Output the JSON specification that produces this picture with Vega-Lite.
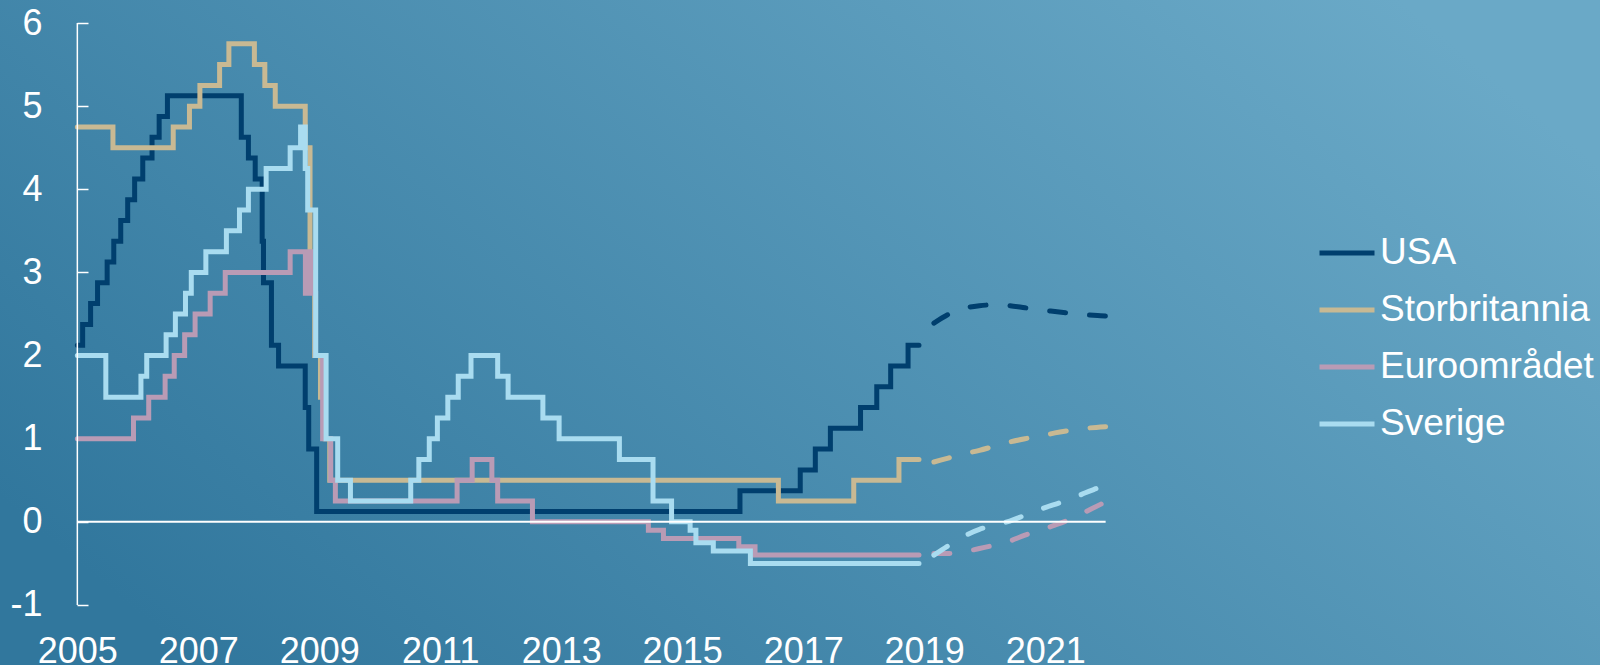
{
  "$schema": "https://vega.github.io/schema/vega-lite/v6.json",
  "width": 1600,
  "height": 665,
  "padding": 0,
  "autosize": {"type": "none"},
  "background": "#4a8cb0",
  "view": {
    "stroke": null,
    "fill": {
      "gradient": "linear",
      "x1": 0, "y1": 0.75, "x2": 1, "y2": 0.25,
      "stops": [
        {"offset": 0, "color": "#31779d"},
        {"offset": 1, "color": "#6aa9c7"}
      ]
    }
  },
  "config": {
    "font": "Liberation Sans",
    "view": {"stroke": null}
  },
  "datasets": {
    "hist": [
      {"land": "USA", "tid": "2005-01-01", "ranta": 2.125},
      {"land": "USA", "tid": "2005-02-02", "ranta": 2.375},
      {"land": "USA", "tid": "2005-03-22", "ranta": 2.625},
      {"land": "USA", "tid": "2005-05-03", "ranta": 2.875},
      {"land": "USA", "tid": "2005-06-30", "ranta": 3.125},
      {"land": "USA", "tid": "2005-08-09", "ranta": 3.375},
      {"land": "USA", "tid": "2005-09-20", "ranta": 3.625},
      {"land": "USA", "tid": "2005-11-01", "ranta": 3.875},
      {"land": "USA", "tid": "2005-12-13", "ranta": 4.125},
      {"land": "USA", "tid": "2006-01-31", "ranta": 4.375},
      {"land": "USA", "tid": "2006-03-28", "ranta": 4.625},
      {"land": "USA", "tid": "2006-05-10", "ranta": 4.875},
      {"land": "USA", "tid": "2006-06-29", "ranta": 5.125},
      {"land": "USA", "tid": "2007-09-18", "ranta": 4.625},
      {"land": "USA", "tid": "2007-10-31", "ranta": 4.375},
      {"land": "USA", "tid": "2007-12-11", "ranta": 4.125},
      {"land": "USA", "tid": "2008-01-22", "ranta": 3.375},
      {"land": "USA", "tid": "2008-01-30", "ranta": 2.875},
      {"land": "USA", "tid": "2008-03-18", "ranta": 2.125},
      {"land": "USA", "tid": "2008-04-30", "ranta": 1.875},
      {"land": "USA", "tid": "2008-10-08", "ranta": 1.375},
      {"land": "USA", "tid": "2008-10-29", "ranta": 0.875},
      {"land": "USA", "tid": "2008-12-16", "ranta": 0.125},
      {"land": "USA", "tid": "2015-12-16", "ranta": 0.375},
      {"land": "USA", "tid": "2016-12-14", "ranta": 0.625},
      {"land": "USA", "tid": "2017-03-15", "ranta": 0.875},
      {"land": "USA", "tid": "2017-06-14", "ranta": 1.125},
      {"land": "USA", "tid": "2017-12-13", "ranta": 1.375},
      {"land": "USA", "tid": "2018-03-21", "ranta": 1.625},
      {"land": "USA", "tid": "2018-06-13", "ranta": 1.875},
      {"land": "USA", "tid": "2018-09-26", "ranta": 2.125},
      {"land": "USA", "tid": "2018-12-01", "ranta": 2.125},

      {"land": "Storbritannia", "tid": "2005-01-01", "ranta": 4.75},
      {"land": "Storbritannia", "tid": "2005-08-04", "ranta": 4.5},
      {"land": "Storbritannia", "tid": "2006-08-03", "ranta": 4.75},
      {"land": "Storbritannia", "tid": "2006-11-09", "ranta": 5.0},
      {"land": "Storbritannia", "tid": "2007-01-11", "ranta": 5.25},
      {"land": "Storbritannia", "tid": "2007-05-10", "ranta": 5.5},
      {"land": "Storbritannia", "tid": "2007-07-05", "ranta": 5.75},
      {"land": "Storbritannia", "tid": "2007-12-06", "ranta": 5.5},
      {"land": "Storbritannia", "tid": "2008-02-07", "ranta": 5.25},
      {"land": "Storbritannia", "tid": "2008-04-10", "ranta": 5.0},
      {"land": "Storbritannia", "tid": "2008-10-08", "ranta": 4.5},
      {"land": "Storbritannia", "tid": "2008-11-06", "ranta": 3.0},
      {"land": "Storbritannia", "tid": "2008-12-04", "ranta": 2.0},
      {"land": "Storbritannia", "tid": "2009-01-08", "ranta": 1.5},
      {"land": "Storbritannia", "tid": "2009-02-05", "ranta": 1.0},
      {"land": "Storbritannia", "tid": "2009-03-05", "ranta": 0.5},
      {"land": "Storbritannia", "tid": "2016-08-04", "ranta": 0.25},
      {"land": "Storbritannia", "tid": "2017-11-02", "ranta": 0.5},
      {"land": "Storbritannia", "tid": "2018-08-02", "ranta": 0.75},
      {"land": "Storbritannia", "tid": "2018-12-01", "ranta": 0.75},

      {"land": "Euroområdet", "tid": "2005-01-01", "ranta": 1.0},
      {"land": "Euroområdet", "tid": "2005-12-06", "ranta": 1.25},
      {"land": "Euroområdet", "tid": "2006-03-08", "ranta": 1.5},
      {"land": "Euroområdet", "tid": "2006-06-15", "ranta": 1.75},
      {"land": "Euroområdet", "tid": "2006-08-09", "ranta": 2.0},
      {"land": "Euroområdet", "tid": "2006-10-11", "ranta": 2.25},
      {"land": "Euroområdet", "tid": "2006-12-13", "ranta": 2.5},
      {"land": "Euroområdet", "tid": "2007-03-14", "ranta": 2.75},
      {"land": "Euroområdet", "tid": "2007-06-13", "ranta": 3.0},
      {"land": "Euroområdet", "tid": "2008-07-09", "ranta": 3.25},
      {"land": "Euroområdet", "tid": "2008-10-09", "ranta": 2.75},
      {"land": "Euroområdet", "tid": "2008-10-15", "ranta": 3.25},
      {"land": "Euroområdet", "tid": "2008-11-12", "ranta": 2.75},
      {"land": "Euroområdet", "tid": "2008-12-10", "ranta": 2.0},
      {"land": "Euroområdet", "tid": "2009-01-21", "ranta": 1.0},
      {"land": "Euroområdet", "tid": "2009-03-11", "ranta": 0.5},
      {"land": "Euroområdet", "tid": "2009-04-08", "ranta": 0.25},
      {"land": "Euroområdet", "tid": "2011-04-13", "ranta": 0.5},
      {"land": "Euroområdet", "tid": "2011-07-13", "ranta": 0.75},
      {"land": "Euroområdet", "tid": "2011-11-09", "ranta": 0.5},
      {"land": "Euroområdet", "tid": "2011-12-14", "ranta": 0.25},
      {"land": "Euroområdet", "tid": "2012-07-11", "ranta": 0.0},
      {"land": "Euroområdet", "tid": "2014-06-11", "ranta": -0.1},
      {"land": "Euroområdet", "tid": "2014-09-10", "ranta": -0.2},
      {"land": "Euroområdet", "tid": "2015-12-09", "ranta": -0.3},
      {"land": "Euroområdet", "tid": "2016-03-16", "ranta": -0.4},
      {"land": "Euroområdet", "tid": "2018-12-01", "ranta": -0.4},

      {"land": "Sverige", "tid": "2005-01-01", "ranta": 2.0},
      {"land": "Sverige", "tid": "2005-06-22", "ranta": 1.5},
      {"land": "Sverige", "tid": "2006-01-20", "ranta": 1.75},
      {"land": "Sverige", "tid": "2006-02-24", "ranta": 2.0},
      {"land": "Sverige", "tid": "2006-06-21", "ranta": 2.25},
      {"land": "Sverige", "tid": "2006-08-16", "ranta": 2.5},
      {"land": "Sverige", "tid": "2006-10-16", "ranta": 2.75},
      {"land": "Sverige", "tid": "2006-11-20", "ranta": 3.0},
      {"land": "Sverige", "tid": "2007-02-16", "ranta": 3.25},
      {"land": "Sverige", "tid": "2007-06-20", "ranta": 3.5},
      {"land": "Sverige", "tid": "2007-09-07", "ranta": 3.75},
      {"land": "Sverige", "tid": "2007-10-31", "ranta": 4.0},
      {"land": "Sverige", "tid": "2008-02-15", "ranta": 4.25},
      {"land": "Sverige", "tid": "2008-07-09", "ranta": 4.5},
      {"land": "Sverige", "tid": "2008-09-10", "ranta": 4.75},
      {"land": "Sverige", "tid": "2008-10-08", "ranta": 4.25},
      {"land": "Sverige", "tid": "2008-10-23", "ranta": 3.75},
      {"land": "Sverige", "tid": "2008-12-10", "ranta": 2.0},
      {"land": "Sverige", "tid": "2009-02-11", "ranta": 1.0},
      {"land": "Sverige", "tid": "2009-04-22", "ranta": 0.5},
      {"land": "Sverige", "tid": "2009-07-08", "ranta": 0.25},
      {"land": "Sverige", "tid": "2010-07-07", "ranta": 0.5},
      {"land": "Sverige", "tid": "2010-08-25", "ranta": 0.75},
      {"land": "Sverige", "tid": "2010-10-27", "ranta": 1.0},
      {"land": "Sverige", "tid": "2010-12-15", "ranta": 1.25},
      {"land": "Sverige", "tid": "2011-02-16", "ranta": 1.5},
      {"land": "Sverige", "tid": "2011-04-20", "ranta": 1.75},
      {"land": "Sverige", "tid": "2011-07-06", "ranta": 2.0},
      {"land": "Sverige", "tid": "2011-12-14", "ranta": 1.75},
      {"land": "Sverige", "tid": "2012-02-15", "ranta": 1.5},
      {"land": "Sverige", "tid": "2012-09-12", "ranta": 1.25},
      {"land": "Sverige", "tid": "2012-12-19", "ranta": 1.0},
      {"land": "Sverige", "tid": "2013-12-18", "ranta": 0.75},
      {"land": "Sverige", "tid": "2014-07-09", "ranta": 0.25},
      {"land": "Sverige", "tid": "2014-10-29", "ranta": 0.0},
      {"land": "Sverige", "tid": "2015-02-18", "ranta": -0.1},
      {"land": "Sverige", "tid": "2015-03-25", "ranta": -0.25},
      {"land": "Sverige", "tid": "2015-07-08", "ranta": -0.35},
      {"land": "Sverige", "tid": "2016-02-17", "ranta": -0.5},
      {"land": "Sverige", "tid": "2018-12-01", "ranta": -0.5}
    ],
    "prognos": [
      {"land": "USA", "tid": "2019-03-01", "ranta": 2.39},
      {"land": "USA", "tid": "2019-06-01", "ranta": 2.5},
      {"land": "USA", "tid": "2019-09-01", "ranta": 2.57},
      {"land": "USA", "tid": "2019-12-01", "ranta": 2.6},
      {"land": "USA", "tid": "2020-03-01", "ranta": 2.61},
      {"land": "USA", "tid": "2020-06-01", "ranta": 2.6},
      {"land": "USA", "tid": "2020-09-01", "ranta": 2.575},
      {"land": "USA", "tid": "2020-12-01", "ranta": 2.55},
      {"land": "USA", "tid": "2021-03-01", "ranta": 2.53},
      {"land": "USA", "tid": "2021-06-01", "ranta": 2.51},
      {"land": "USA", "tid": "2021-09-01", "ranta": 2.49},
      {"land": "USA", "tid": "2021-12-01", "ranta": 2.48},
      {"land": "USA", "tid": "2022-01-01", "ranta": 2.475},

      {"land": "Storbritannia", "tid": "2019-03-01", "ranta": 0.72},
      {"land": "Storbritannia", "tid": "2019-06-01", "ranta": 0.77},
      {"land": "Storbritannia", "tid": "2019-09-01", "ranta": 0.82},
      {"land": "Storbritannia", "tid": "2019-12-01", "ranta": 0.86},
      {"land": "Storbritannia", "tid": "2020-03-01", "ranta": 0.91},
      {"land": "Storbritannia", "tid": "2020-06-01", "ranta": 0.96},
      {"land": "Storbritannia", "tid": "2020-09-01", "ranta": 1.0},
      {"land": "Storbritannia", "tid": "2020-12-01", "ranta": 1.03},
      {"land": "Storbritannia", "tid": "2021-03-01", "ranta": 1.07},
      {"land": "Storbritannia", "tid": "2021-06-01", "ranta": 1.1},
      {"land": "Storbritannia", "tid": "2021-09-01", "ranta": 1.125},
      {"land": "Storbritannia", "tid": "2021-12-01", "ranta": 1.14},
      {"land": "Storbritannia", "tid": "2022-01-01", "ranta": 1.145},

      {"land": "Euroområdet", "tid": "2019-03-01", "ranta": -0.38},
      {"land": "Euroområdet", "tid": "2019-06-01", "ranta": -0.38},
      {"land": "Euroområdet", "tid": "2019-09-01", "ranta": -0.36},
      {"land": "Euroområdet", "tid": "2019-12-01", "ranta": -0.32},
      {"land": "Euroområdet", "tid": "2020-03-01", "ranta": -0.28},
      {"land": "Euroområdet", "tid": "2020-06-01", "ranta": -0.23},
      {"land": "Euroområdet", "tid": "2020-09-01", "ranta": -0.16},
      {"land": "Euroområdet", "tid": "2020-12-01", "ranta": -0.1},
      {"land": "Euroområdet", "tid": "2021-03-01", "ranta": -0.04},
      {"land": "Euroområdet", "tid": "2021-06-01", "ranta": 0.03},
      {"land": "Euroområdet", "tid": "2021-09-01", "ranta": 0.12},
      {"land": "Euroområdet", "tid": "2021-12-01", "ranta": 0.21},
      {"land": "Euroområdet", "tid": "2022-01-01", "ranta": 0.24},

      {"land": "Sverige", "tid": "2019-03-01", "ranta": -0.4},
      {"land": "Sverige", "tid": "2019-06-01", "ranta": -0.28},
      {"land": "Sverige", "tid": "2019-09-01", "ranta": -0.17},
      {"land": "Sverige", "tid": "2019-12-01", "ranta": -0.09},
      {"land": "Sverige", "tid": "2020-03-01", "ranta": -0.04},
      {"land": "Sverige", "tid": "2020-06-01", "ranta": 0.01},
      {"land": "Sverige", "tid": "2020-09-01", "ranta": 0.08},
      {"land": "Sverige", "tid": "2020-12-01", "ranta": 0.15},
      {"land": "Sverige", "tid": "2021-03-01", "ranta": 0.21},
      {"land": "Sverige", "tid": "2021-06-01", "ranta": 0.27},
      {"land": "Sverige", "tid": "2021-09-01", "ranta": 0.35},
      {"land": "Sverige", "tid": "2021-12-01", "ranta": 0.42},
      {"land": "Sverige", "tid": "2022-01-01", "ranta": 0.445}
    ]
  },
  "encoding": {
    "x": {
      "type": "temporal",
      "title": null,
      "scale": {"type": "utc", "domain": [{"year": 2003, "month": 9, "date": 22, "utc": true}, {"year": 2030, "month": 3, "date": 5, "utc": true}], "nice": false},
      "axis": {
        "orient": "bottom", "offset": -31, "domain": false, "ticks": false, "grid": false,
        "values": [
          {"year": 2005, "utc": true}, {"year": 2007, "utc": true}, {"year": 2009, "utc": true},
          {"year": 2011, "utc": true}, {"year": 2013, "utc": true}, {"year": 2015, "utc": true},
          {"year": 2017, "utc": true}, {"year": 2019, "utc": true}, {"year": 2021, "utc": true}
        ],
        "format": "%Y", "labelPadding": 0, "labelFontSize": 36, "labelColor": "white",
        "labelFont": "Liberation Sans", "labelBaseline": "top", "labelAlign": "center",
        "labelFlush": false, "labelOverlap": false, "title": null
      }
    },
    "y": {
      "type": "quantitative",
      "title": null,
      "scale": {"domain": [-1.722, 6.277], "nice": false, "zero": false},
      "axis": {
        "orient": "left", "offset": -77, "domain": false, "grid": false,
        "values": [-1, 0, 1, 2, 3, 4, 5, 6],
        "ticks": true, "tickSize": -11, "tickColor": "white", "tickWidth": 1.5,
        "labelPadding": 46, "labelFontSize": 36, "labelColor": "white", "labelFont": "Liberation Sans",
        "labelExpr": "'' + datum.value", "labelFlush": false, "labelOverlap": false, "title": null
      }
    }
  },
  "layer": [
    {
      "data": {"name": "hist"},
      "mark": {"type": "line", "interpolate": "step-after", "strokeWidth": 5, "strokeCap": "round", "strokeJoin": "miter"},
      "encoding": {
        "x": {"field": "tid"},
        "y": {"field": "ranta"},
        "color": {
          "field": "land", "type": "nominal",
          "scale": {"domain": ["USA", "Storbritannia", "Euroområdet", "Sverige"], "range": ["#003f6e", "#c8b993", "#b99bb5", "#a9dcf0"]},
          "legend": {
            "title": null, "orient": "none", "legendX": 1317, "legendY": 223,
            "labelFontSize": 37, "labelColor": "white", "labelFont": "Liberation Sans", "labelLimit": 400,
            "symbolType": "stroke", "symbolSize": 3025, "symbolStrokeWidth": 5,
            "rowPadding": 9, "labelOffset": 3, "padding": 0
          }
        }
      }
    },
    {
      "data": {"name": "prognos"},
      "mark": {"type": "line", "interpolate": "monotone", "strokeWidth": 5, "strokeCap": "round", "strokeDash": [16, 24]},
      "encoding": {
        "x": {"field": "tid"},
        "y": {"field": "ranta"},
        "color": {"field": "land", "type": "nominal", "legend": null}
      }
    },
    {
      "data": {"values": [{"fran": "2005-01-01", "till": "2022-01-01", "noll": 0}]},
      "mark": {"type": "rule", "color": "white", "strokeWidth": 2},
      "encoding": {
        "x": {"field": "fran"},
        "x2": {"field": "till"},
        "y": {"field": "noll"}
      }
    },
    {
      "data": {"values": [{"start": "2005-01-01", "lag": -1, "hog": 6}]},
      "mark": {"type": "rule", "color": "white", "strokeWidth": 1.5},
      "encoding": {
        "x": {"field": "start"},
        "y": {"field": "lag"},
        "y2": {"field": "hog"}
      }
    }
  ]
}
